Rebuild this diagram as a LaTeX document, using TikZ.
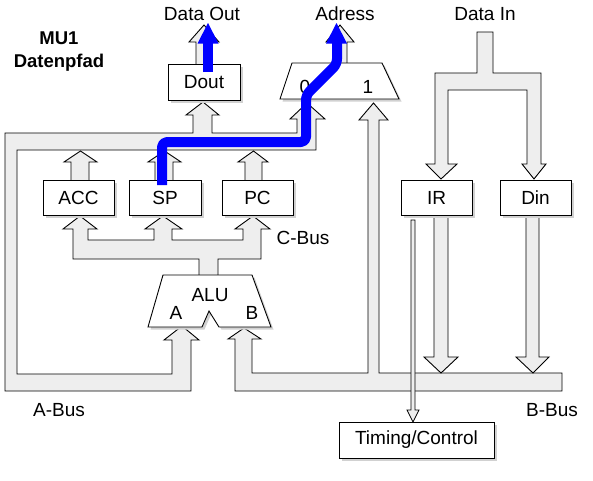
\documentclass[tikz,border=0pt]{standalone}
\usepackage{fontspec}
\setmainfont{Liberation Sans}
\usetikzlibrary{shadows}
\definecolor{busgray}{HTML}{EEEEEE}
\definecolor{pathblue}{HTML}{0000FF}
\begin{document}
\begin{tikzpicture}[x=1pt,y=-1pt,
  bus/.style={fill=busgray,draw=black,line width=0.9pt,line join=miter},
  box/.style={draw,fill=white,line width=0.9pt,inner sep=0pt,minimum height=35pt,
    font=\fontsize{19}{21}\selectfont,
    drop shadow={shadow xshift=2.5pt,shadow yshift=-2.5pt,fill=black!18,opacity=1}},
  lbl/.style={inner sep=0pt,font=\fontsize{19}{21}\selectfont},
  ttl/.style={inner sep=0pt,font=\fontsize{18.5}{20}\selectfont\bfseries},
  unitshape/.style={draw,fill=white,line width=0.9pt,line join=miter},
  unitshadow/.style={fill=black!18,draw=none},
  blueline/.style={draw=pathblue,line width=10pt,line join=round,rounded corners=5pt},
]
\useasboundingbox (0,0) rectangle (593,480);

% ---------- A-Bus ----------
\draw[bus] (182,326) -- (199,340) -- (191,340) -- (191,391) -- (5,391) -- (5,133)
  -- (193,133) -- (193,115) -- (186,115) -- (203,102) -- (219,115) -- (212,115) -- (212,133)
  -- (297,133) -- (297,119) -- (290,119) -- (307,103) -- (325,119) -- (316,119) -- (316,150)
  -- (17,150) -- (17,374) -- (172,374) -- (172,340) -- (164,340) -- cycle;

% register outputs into A-Bus
\draw[bus] (71,181) -- (71,162) -- (64,162) -- (80.5,151) -- (97,162) -- (89,162) -- (89,181);
\draw[bus] (155,181) -- (155,162) -- (148,162) -- (164.5,151) -- (181,162) -- (173,162) -- (173,181);
\draw[bus] (245,181) -- (245,162) -- (238,162) -- (253.5,151) -- (268,162) -- (262,162) -- (262,181);

% ---------- C-Bus ----------
\draw[bus] (199,276) -- (199,259) -- (73,259) -- (73,229) -- (63,229) -- (80,216) -- (97,229)
  -- (88,229) -- (88,240) -- (154,240) -- (154,229) -- (145,229) -- (163,216) -- (182,229)
  -- (172,229) -- (172,240) -- (243,240) -- (243,229) -- (235,229) -- (253,216) -- (270,229)
  -- (261,229) -- (261,259) -- (218,259) -- (218,276);

% ---------- B-Bus ----------
\draw[bus] (244,328) -- (261,339) -- (252,339) -- (252,373) -- (368,373) -- (368,120)
  -- (359,120) -- (373.5,103) -- (388,120) -- (379,120) -- (379,373) -- (562,373)
  -- (562,391) -- (235,391) -- (235,339) -- (228,339) -- cycle;

% IR / Din into B-Bus
\draw[bus] (434,214) -- (434,357) -- (424,357) -- (441,373) -- (458,357) -- (448,357) -- (448,214);
\draw[bus] (526,214) -- (526,357) -- (516,357) -- (533,373) -- (549,357) -- (539,357) -- (539,214);

% Data In fork
\draw[bus] (477,32) -- (493,32) -- (493,73) -- (541,73) -- (541,164) -- (546,164) -- (534,179)
  -- (522,164) -- (527,164) -- (527,90) -- (448,90) -- (448,164) -- (457,164) -- (441,179)
  -- (426,164) -- (435,164) -- (435,73) -- (477,73) -- cycle;

% outputs to Data Out and Adress
\draw[bus] (196,65) -- (196,42) -- (189,42) -- (204,25) -- (219,42) -- (212,42) -- (212,65);
\draw[bus] (333,64) -- (333,42) -- (326,42) -- (340,25) -- (354,42) -- (347,42) -- (347,64);

% ---------- boxes ----------
\node[box,minimum width=72pt,minimum height=36pt] (dout) at (204,82) {Dout};
\node[box,minimum width=71pt] (acc) at (78.5,197.5) {ACC};
\node[box,minimum width=72pt] (sp) at (165,197.5) {SP};
\node[box,minimum width=71pt] (pc) at (257.5,197.5) {PC};
\node[box,minimum width=71pt] (ir) at (436.5,197.5) {IR};
\node[box,minimum width=71pt] (din) at (535.5,197.5) {Din};
\node[box,minimum width=155pt,minimum height=36pt] (tc) at (416.5,440) {Timing/Control};

% ---------- multiplexer ----------
\fill[unitshadow] (294.5,65.5) -- (384.5,65.5) -- (401.5,101.5) -- (282.5,101.5) -- cycle;
\draw[unitshape] (292,63) -- (382,63) -- (399,99) -- (280,99) -- cycle;
\node[lbl] (mux0) at (305,87) {0};
\node[lbl] (mux1) at (368,87) {1};

% ---------- ALU ----------
\fill[unitshadow] (165.5,277.5) -- (254.5,277.5) -- (273.5,329.5) -- (221.5,329.5) -- (211.5,313.5)
  -- (204.5,329.5) -- (150.5,329.5) -- cycle;
\draw[unitshape] (163,275) -- (252,275) -- (271,327) -- (219,327) -- (209,311) -- (202,327)
  -- (148,327) -- cycle;
\node[lbl] (alu) at (210,295) {ALU};
\node[lbl] (alua) at (176,313) {A};
\node[lbl] (alub) at (252,313) {B};

% IR -> Timing/Control
\draw[bus,line width=0.7pt] (411,220) -- (411,410) -- (407,410) -- (413,422) -- (419,410)
  -- (415,410) -- (415,220) -- cycle;

% ---------- highlighted paths ----------
\draw[blueline] (162,185) -- (162,142) -- (306,142) -- (306,95) -- (337,64) -- (337,43);
\fill[pathblue] (326,43.5) -- (336.5,23) -- (347,43.5) -- cycle;
\draw[draw=pathblue,line width=10pt] (208,72) -- (208,43);
\fill[pathblue] (197.5,43.5) -- (208,23) -- (218.5,43.5) -- cycle;

% ---------- labels ----------
\node[lbl] (tDataOut) at (202,14) {Data Out};
\node[lbl] (tAdress) at (345,14) {Adress};
\node[lbl] (tDataIn) at (485,14) {Data In};
\node[ttl] (tMU) at (59,38) {MU1};
\node[ttl] (tDP) at (59,63) {Datenpfad};
\node[lbl] (tC) at (303,238) {C-Bus};
\node[lbl] (tA) at (59,410) {A-Bus};
\node[lbl] (tB) at (552,410) {B-Bus};
\end{tikzpicture}
\end{document}
